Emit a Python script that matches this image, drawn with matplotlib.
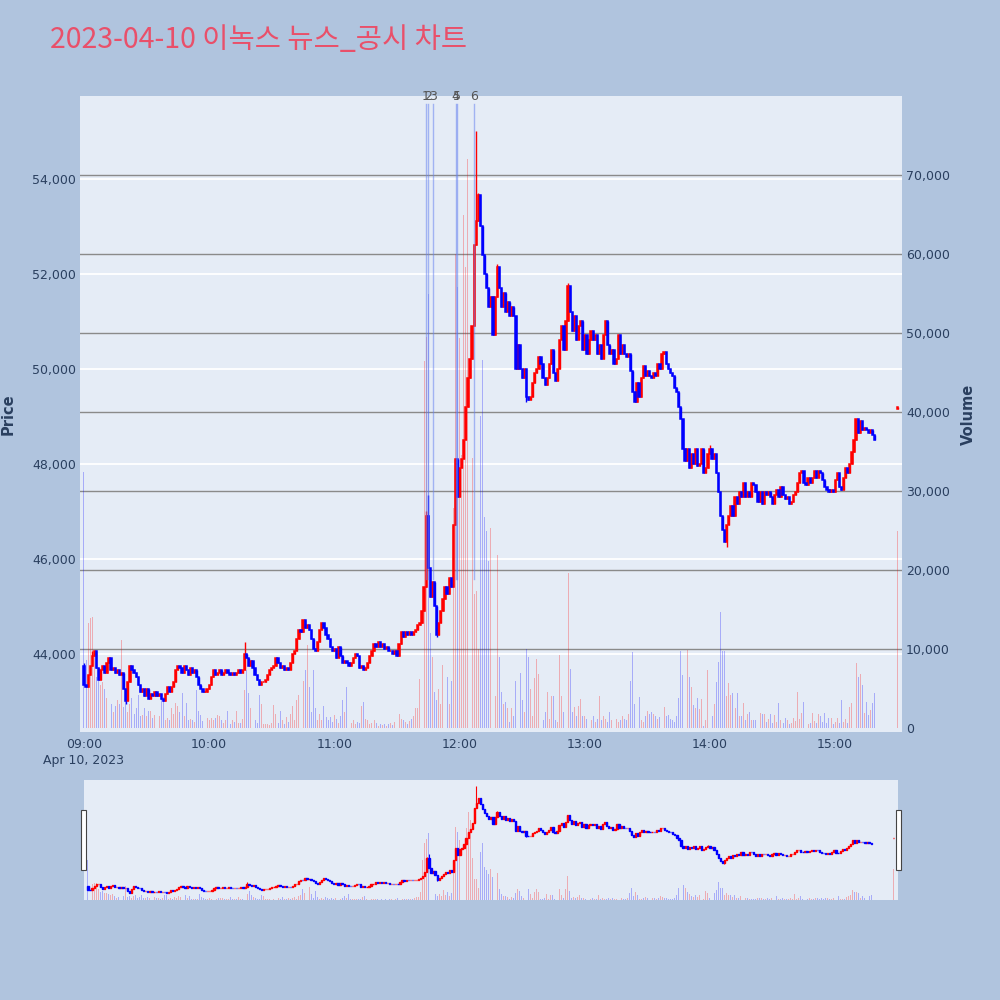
import matplotlib
matplotlib.use('Agg')
import matplotlib.pyplot as plt
from matplotlib.patches import Rectangle
import numpy as np

# minute closes, 09:00 .. 15:19 (open of each minute = previous close)
day_open = 43750
close_09 = [43350, 43300, 43550, 43750, 43950, 44050, 43700, 43450, 43650, 43750,
            43600, 43800, 43900, 43650, 43700, 43600, 43650, 43550, 43600, 43250,
            43000, 43400, 43750, 43650, 43600, 43500, 43350, 43200, 43250, 43100,
            43250, 43050, 43150, 43100, 43200, 43100, 43150, 43050, 43000, 43150,
            43300, 43200, 43300, 43400, 43650, 43750, 43700, 43600, 43750, 43650,
            43550, 43700, 43600, 43650, 43500, 43350, 43250, 43200, 43200, 43250]
close_10 = [43350, 43500, 43650, 43550, 43600, 43650, 43550, 43600, 43650, 43600,
            43550, 43600, 43550, 43600, 43650, 43600, 43650, 44000, 43900, 43750,
            43850, 43700, 43550, 43450, 43350, 43400, 43400, 43450, 43550, 43650,
            43700, 43750, 43900, 43800, 43700, 43750, 43650, 43700, 43650, 43800,
            44000, 44050, 44300, 44500, 44450, 44700, 44550, 44600, 44500, 44300,
            44100, 44050, 44250, 44500, 44650, 44550, 44400, 44300, 44150, 44050]
close_11 = [44100, 43900, 44150, 43950, 43800, 43850, 43800, 43750, 43800, 43900,
            44000, 43950, 43700, 43750, 43650, 43700, 43800, 43950, 44050, 44200,
            44150, 44250, 44150, 44200, 44100, 44150, 44050, 44050, 44000, 44050,
            43950, 44200, 44450, 44350, 44450, 44400, 44450, 44400, 44450, 44500,
            44600, 44650, 44900, 45400, 46900, 45800, 45200, 45500, 45000, 44400,
            44650, 44900, 45150, 45400, 45250, 45600, 45400, 46700, 48100, 47300]
close_12 = [47900, 48100, 48500, 49200, 49800, 50200, 50900, 52600, 53100, 53650,
            53000, 52400, 52000, 51700, 51300, 51500, 50700, 51500, 52150, 51700,
            51300, 51600, 51200, 51400, 51100, 51300, 51100, 50000, 50500, 50000,
            49800, 50000, 49400, 49350, 49400, 49700, 49900, 50000, 50250, 50100,
            49800, 49650, 49800, 50100, 50400, 49900, 49750, 50000, 50600, 50900,
            50400, 51000, 51750, 51200, 50800, 51100, 50600, 50900, 51000, 50400]
close_13 = [50700, 50300, 50600, 50800, 50600, 50700, 50300, 50500, 50200, 50700,
            51000, 50500, 50300, 50400, 50100, 50200, 50700, 50300, 50500, 50300,
            50250, 50300, 49950, 49500, 49300, 49700, 49400, 49800, 50050, 49850,
            49950, 49850, 49800, 49900, 49850, 50100, 50000, 50300, 50350, 50100,
            50000, 49900, 49850, 49600, 49500, 49200, 48950, 48300, 48050, 48300,
            47900, 48200, 48000, 48300, 47950, 48000, 48300, 47800, 47900, 48200]
close_14 = [48300, 48100, 48200, 47800, 47400, 46900, 46600, 46350, 46700, 46900,
            47100, 46900, 47300, 47150, 47400, 47300, 47600, 47300, 47400, 47300,
            47600, 47550, 47400, 47200, 47400, 47150, 47400, 47350, 47400, 47300,
            47150, 47350, 47450, 47300, 47500, 47350, 47250, 47300, 47150, 47200,
            47350, 47400, 47600, 47800, 47850, 47600, 47550, 47700, 47600, 47700,
            47850, 47700, 47850, 47800, 47650, 47500, 47450, 47400, 47450, 47400]
close_15 = [47650, 47800, 47500, 47450, 47700, 47900, 47800, 48000, 48250, 48500,
            48950, 48650, 48900, 48700, 48750, 48700, 48650, 48700, 48600, 48500]

# closing auction at 15:30
auction_open, auction_close, auction_vol = 49150, 49200, 25000

# wicks that stick out of the bodies (minute index -> price)
high_wicks = {0: 43800, 4: 44050, 77: 44250, 164: 47000, 165: 47350, 188: 55000,
              189: 53700, 198: 52200, 232: 51800, 300: 48400}
low_wicks = {20: 42950, 169: 44350, 212: 49300, 308: 46250}

vol_09 = [32400, 8600, 13300, 13900, 14000, 9000, 6500, 7000, 5500, 5800,
          5000, 3800, 4800, 3000, 2000, 2800, 3500, 3000, 11100, 2700,
          3500, 2000, 3000, 3800, 1800, 2500, 4200, 1500, 1700, 2600,
          1500, 2200, 2200, 1300, 1700, 1200, 1500, 3900, 3900, 1000,
          1300, 1000, 2600, 1800, 3200, 2800, 2000, 4400, 1500, 3200,
          1000, 1200, 1000, 800, 4800, 2200, 1600, 900, 800, 1300]
vol_10 = [1000, 1300, 1000, 1300, 1700, 1500, 1000, 700, 1000, 2200,
          500, 1000, 800, 2100, 600, 700, 1200, 4800, 7300, 4400,
          2500, 1800, 1000, 700, 4200, 3000, 500, 500, 500, 400,
          600, 2900, 1800, 600, 2200, 1000, 500, 1400, 800, 1800,
          2800, 1000, 3500, 4200, 8600, 6000, 7300, 10500, 5200, 2000,
          7300, 2500, 1000, 1800, 1000, 2800, 1400, 1000, 1400, 800]
vol_11 = [1700, 1200, 600, 1500, 3500, 2000, 5200, 1000, 600, 1000,
          500, 800, 600, 2800, 3300, 1200, 1000, 500, 700, 1000,
          600, 300, 500, 400, 500, 300, 500, 600, 400, 800,
          1600, 1800, 1200, 1000, 800, 500, 900, 1100, 1500, 2500,
          2500, 6200, 32500, 46500, 49500, 55000, 12000, 9000, 4500, 3500,
          5000, 3000, 8000, 4000, 6500, 3000, 6000, 27800, 60000, 55800]
vol_12 = [49400, 34500, 65000, 58400, 72000, 65600, 34200, 17000, 17300, 10000,
          39500, 46600, 26700, 24900, 21100, 25300, 19000, 4000, 21900, 9000,
          4500, 3000, 3300, 2500, 800, 2500, 1500, 6000, 8700, 7000,
          3500, 2000, 10000, 9000, 5000, 1500, 6300, 8700, 6800, 1200,
          1000, 2000, 4500, 1200, 4000, 4000, 1000, 800, 9300, 4000,
          2000, 8800, 19600, 7500, 2000, 2700, 1500, 2800, 3700, 1500]
vol_13 = [1500, 1200, 2700, 1000, 1500, 800, 1200, 4000, 1000, 1500,
          1200, 800, 2000, 1000, 1500, 1200, 800, 1000, 1500, 1200,
          1000, 1800, 5900, 9600, 3000, 6300, 3900, 1000, 800, 1500,
          2200, 1800, 2000, 1800, 1500, 1200, 1400, 3300, 2700, 1500,
          1600, 1200, 1000, 800, 1500, 3800, 9700, 6700, 12000, 9900,
          6500, 5200, 2900, 2500, 3800, 2400, 3700, 200, 1000, 7400]
vol_14 = [5500, 1500, 3000, 5800, 8400, 14700, 9700, 9700, 4000, 5700,
          4200, 4400, 2500, 4400, 1500, 1500, 3200, 1000, 1800, 2000,
          1000, 1000, 1000, 600, 1900, 1800, 1800, 800, 1200, 1800,
          600, 1700, 800, 3200, 1000, 600, 1300, 1000, 500, 700,
          1300, 900, 4600, 1200, 1900, 3300, 1000, 500, 600, 1900,
          900, 700, 1800, 1500, 800, 1900, 600, 1300, 1300, 500]
vol_15 = [800, 1300, 600, 3500, 800, 1100, 600, 2700, 3200, 4200,
          8200, 6500, 6800, 5500, 1900, 3300, 1700, 2300, 3200, 4400]

news_times = ["11:43:50", "11:44:50", "11:47:10", "11:58:10", "11:58:40", "12:06:55"]
news_labels = ["1", "2", "3", "4", "5", "6"]

hour_labels = ["09:00", "10:00", "11:00", "12:00", "13:00", "14:00", "15:00"]
price_ticks = [44000, 46000, 48000, 50000, 52000, 54000]
vol_ticks = [0, 10000, 20000, 30000, 40000, 50000, 60000, 70000]

# ---- assemble OHLCV ----
closes = np.array(close_09 + close_10 + close_11 + close_12 + close_13 + close_14 + close_15
                  + [auction_close], dtype=float)
n = len(closes) - 1
minutes = np.r_[np.arange(n), 390].astype(float)
opens = np.r_[day_open, closes[:-2], auction_open].astype(float)
highs = np.maximum(opens, closes)
lows = np.minimum(opens, closes)
for k, v in high_wicks.items():
    highs[k] = max(highs[k], v)
for k, v in low_wicks.items():
    lows[k] = min(lows[k], v)
volumes = np.array(vol_09 + vol_10 + vol_11 + vol_12 + vol_13 + vol_14 + vol_15 + [auction_vol], dtype=float)
up = closes >= opens


def to_min(t):
    h, m, s = [int(p) for p in t.split(':')]
    return (h - 9) * 60 + m + s / 60


TXT = '#2a3f5f'
BG = '#E5ECF6'
RED, BLUE = '#FF0000', '#0000FF'
XLIM = (-1.9, 392.0)

fig = plt.figure(figsize=(10, 10), dpi=100)
fig.patch.set_facecolor('#B0C4DE')


def draw_candles(ax, body_w, body_lw, wick_lw):
    for mask, col in ((up, RED), (~up, BLUE)):
        ax.vlines(minutes[mask], lows[mask], highs[mask], color=col, lw=wick_lw, zorder=3)
        ax.bar(minutes[mask], np.maximum(np.abs(closes - opens)[mask], 1),
               bottom=np.minimum(opens, closes)[mask], width=body_w,
               color=col, edgecolor=col, linewidth=body_lw, zorder=4)


def draw_volume(ax, width):
    ax.bar(minutes[up], volumes[up], width=width, color=RED, alpha=0.27, linewidth=0)
    ax.bar(minutes[~up], volumes[~up], width=width, color=BLUE, alpha=0.27, linewidth=0)


def clean(ax):
    for s in ax.spines.values():
        s.set_visible(False)


rect = [0.08, 0.268, 0.822, 0.636]
price_lim = (42350, 55740)

# background with white price grid
ax_bg = fig.add_axes(rect)
ax_bg.set_facecolor(BG)
ax_bg.set_xlim(*XLIM)
ax_bg.set_ylim(*price_lim)
for p in price_ticks:
    ax_bg.axhline(p, color='white', lw=1.3)
ax_bg.tick_params(left=False, labelleft=False, bottom=False, labelbottom=False)
clean(ax_bg)

# volume
ax_v = fig.add_axes(rect, sharex=ax_bg)
ax_v.patch.set_alpha(0)
ax_v.set_ylim(-500, 80000)
ax_v.set_yticks(vol_ticks)
ax_v.set_yticklabels([f"{v:,}" for v in vol_ticks])
ax_v.yaxis.tick_right()
ax_v.yaxis.set_label_position('right')
for v in vol_ticks[1:]:
    ax_v.axhline(v, color='#8a8a8a', lw=1.0, zorder=0)
draw_volume(ax_v, 0.45)
ax_v.tick_params(axis='y', length=0, pad=3, labelsize=9, labelcolor=TXT)
ax_v.tick_params(axis='x', bottom=False, labelbottom=False)
ax_v.set_ylabel('Volume', fontsize=10.5, fontweight='bold', color=TXT, labelpad=8)
clean(ax_v)

# price candles
ax_p = fig.add_axes(rect, sharex=ax_bg)
ax_p.patch.set_alpha(0)
ax_p.set_ylim(*price_lim)
draw_candles(ax_p, 0.6, 1.1, 1.0)
ax_p.set_yticks(price_ticks)
ax_p.set_yticklabels([f"{p:,}" for p in price_ticks])
ax_p.tick_params(axis='y', length=0, pad=3, labelsize=9, labelcolor=TXT)
ax_p.set_ylabel('Price', fontsize=10.5, fontweight='bold', color=TXT, labelpad=12)
ax_p.set_xticks([i * 60 for i in range(len(hour_labels))])
ax_p.set_xticklabels(hour_labels)
ax_p.tick_params(axis='x', length=0, pad=4, labelsize=9, labelcolor=TXT)
ax_p.set_xlim(*XLIM)
clean(ax_p)
ax_p.text(0, -0.034, 'Apr 10, 2023', transform=ax_p.get_xaxis_transform(),
          ha='center', va='top', fontsize=9, color=TXT)

# news markers
for t, lab in zip(news_times, news_labels):
    xm = to_min(t)
    ax_p.axvline(xm, ymin=0.24, ymax=0.987, color='#6a84f0', alpha=0.55, lw=1.0, zorder=5)
    ax_p.text(xm, 1.0, lab, transform=ax_p.get_xaxis_transform(), ha='center', va='center',
              fontsize=9, color='#555555')

# range slider
srect = [0.084, 0.1, 0.814, 0.12]
ax_s = fig.add_axes(srect)
ax_s.set_facecolor(BG)
ax_s.set_xlim(*XLIM)
ax_s.set_ylim(0, 98000)
draw_volume(ax_s, 0.45)
ax_s.set_xticks([])
ax_s.set_yticks([])
clean(ax_s)
ax_s2 = fig.add_axes(srect, sharex=ax_s)
ax_s2.patch.set_alpha(0)
ax_s2.set_ylim(42200, 55700)
draw_candles(ax_s2, 0.6, 1.0, 0.8)
ax_s2.tick_params(left=False, labelleft=False, bottom=False, labelbottom=False)
clean(ax_s2)
for hx in (0.0805, 0.8955):
    fig.patches.append(Rectangle((hx, 0.13), 0.005, 0.06, transform=fig.transFigure,
                                 facecolor='white', edgecolor='#444444', lw=0.8))

fig.text(0.05, 0.96, '2023-04-10 이녹스 뉴스_공시 차트', fontsize=20.5, color='#E9506A',
         family=['Noto Sans CJK KR', 'DejaVu Sans'], ha='left', va='center')

fig.savefig('out.png', dpi=100, facecolor=fig.get_facecolor())
